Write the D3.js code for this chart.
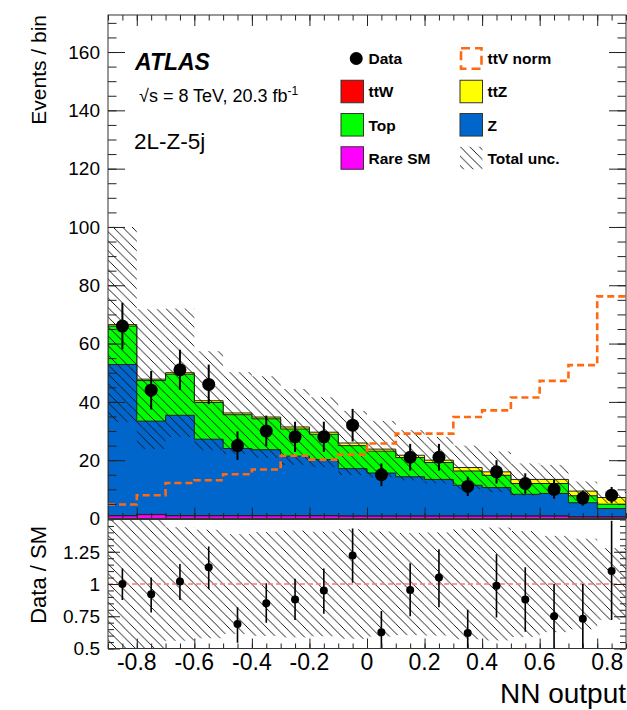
<!DOCTYPE html>
<html>
<head>
<meta charset="utf-8">
<script src="https://cdn.jsdelivr.net/npm/d3@7"></script>
<style>
  body { margin: 0; background: #fff; }
  svg { display: block; font-family: "Liberation Sans", Arial, Helvetica, sans-serif; }
</style>
</head>
<body>
<div id="chart"></div>
<script>
// bin edges of the NN output histogram
const binEdges = [-0.9, -0.8, -0.7, -0.6, -0.5, -0.4, -0.3, -0.2, -0.1, 0, 0.1, 0.2, 0.3, 0.4, 0.5, 0.6, 0.7, 0.8, 0.9];

// stacked backgrounds, bottom to top
const rareSM = [0.9, 1.3, 0.9, 0.9, 0.9, 0.9, 0.9, 0.9, 0.8, 0.8, 0.8, 0.8, 0.8, 0.8, 0.8, 0.8, 0.5, 0.5];
const ttW    = [0.1, 0.1, 0.1, 0.1, 0.1, 0.1, 0.1, 0.1, 0.1, 0.1, 0.1, 0.1, 0.1, 0.1, 0.1, 0.1, 0.1, 0.1];
const zJets  = [51.8, 32.0, 34.4, 26.2, 23.0, 22.6, 20.4, 19.2, 16.2, 14.7, 13.4, 12.5, 10.5, 9.7, 7.4, 7.7, 4.8, 2.8];
const topBkg = [13.2, 13.9, 14.1, 12.6, 11.6, 10.6, 9.3, 8.7, 7.9, 7.5, 6.6, 5.8, 4.9, 4.2, 3.7, 3.4, 2.4, 1.5];
const ttZ    = [0.5, 0.5, 0.5, 0.6, 0.6, 0.6, 0.7, 0.7, 0.9, 0.7, 0.8, 0.8, 1.2, 1.2, 1.4, 1.4, 1.6, 2.3];
const totalUnc = [33.5, 24, 22, 17, 14, 14, 13, 12, 11, 9.7, 8.6, 8, 7.5, 7, 5.5, 5, 3.3, 2.0];

// ttV shape normalised to the total
const ttvNorm = [4.8, 8.0, 12.2, 13.1, 15.2, 16.8, 21.5, 20.2, 21.9, 25.7, 29.1, 29.1, 34.8, 37.1, 41.5, 47.2, 52.6, 76.2];

// data
const dataCounts = [66, 44, 51, 46, 25, 30, 28, 28, 32, 15, 21, 21, 11, 16, 12, 10, 7, 8];
const dataErr    = [8.0, 6.6, 6.9, 6.8, 4.9, 5.3, 5.2, 5.2, 5.6, 3.9, 4.6, 4.6, 3.3, 4.0, 3.5, 3.2, 2.6, 2.8];

// ratio panel
const ratioVals = [1.0, 0.92, 1.02, 1.13, 0.69, 0.85, 0.88, 0.95, 1.22, 0.626, 0.954, 1.05, 0.62, 0.987, 0.88, 0.75, 0.73, 1.10];
const ratioHi   = [1.12, 1.05, 1.155, 1.29, 0.82, 1.005, 1.04, 1.12, 1.43, 0.79, 1.16, 1.27, 0.80, 1.23, 1.13, 1.0, 1.0, 1.49];
const ratioLo   = [0.876, 0.78, 0.876, 0.96, 0.545, 0.70, 0.72, 0.77, 1.01, 0.45, 0.75, 0.82, 0.45, 0.74, 0.63, 0.45, 0.45, 0.72];

const xTicks = [-0.8, -0.6, -0.4, -0.2, 0, 0.2, 0.4, 0.6, 0.8];
const xTickLabels = ["-0.8", "-0.6", "-0.4", "-0.2", "0", "0.2", "0.4", "0.6", "0.8"];
const yTicks = [0, 20, 40, 60, 80, 100, 120, 140, 160];
const ratioTicks = [0.5, 0.75, 1, 1.25];
const ratioTickLabels = ["0.5", "0.75", "1", "1.25"];

const width = 627, height = 710;
const left = 108, right = 626;
const mainTop = 15, mainBottom = 518.5;
const ratioTop = 519.5, ratioBottom = 648.5;

const svg = d3.select("#chart")
  .append("svg")
  .attr("width", width)
  .attr("height", height);

const x = d3.scaleLinear().domain([-0.9, 0.9]).range([left, right]);
const y = d3.scaleLinear().domain([0, 172.7]).range([mainBottom, mainTop]);
const yr = d3.scaleLinear().domain([0.5, 1.5]).range([ratioBottom, ratioTop]);

const defs = svg.append("defs");
const hatch = defs.append("pattern")
  .attr("id", "hatch")
  .attr("patternUnits", "userSpaceOnUse")
  .attr("width", 9.5).attr("height", 9.5);
hatch.append("path")
  .attr("d", "M0,0 L9.5,9.5 M-2,7.5 L2,11.5 M7.5,-2 L11.5,2")
  .attr("stroke", "#111").attr("stroke-width", 1)
  .attr("shape-rendering", "crispEdges");

defs.append("clipPath").attr("id", "clipMain")
  .append("rect").attr("x", left).attr("y", mainTop).attr("width", right - left).attr("height", mainBottom - mainTop);
defs.append("clipPath").attr("id", "clipRatio")
  .append("rect").attr("x", left).attr("y", ratioTop).attr("width", right - left).attr("height", ratioBottom - ratioTop);

const nBins = dataCounts.length;
const bins = d3.range(nBins);
const mid = i => (binEdges[i] + binEdges[i + 1]) / 2;

// cumulative stack
const layers = [rareSM, ttW, zJets, topBkg, ttZ];
const colors = ["#ff00ff", "#ff0000", "#0066cc", "#00ff00", "#ffff00"];
const cum = [];
layers.forEach((l, k) => {
  cum.push(l.map((v, i) => v + (k ? cum[k - 1][i] : 0)));
});
const total = cum[cum.length - 1];

const stepPts = vals => vals.map((v, i) => ({e: binEdges[i], v})).concat([{e: binEdges[nBins], v: vals[nBins - 1]}]);

const area = d3.area().curve(d3.curveStepAfter)
  .x(d => x(d.e)).y0(y(0)).y1(d => y(d.v));

const main = svg.append("g").attr("clip-path", "url(#clipMain)");

for (let k = layers.length - 1; k >= 0; k--) {
  main.append("path")
    .attr("d", area(stepPts(cum[k])))
    .attr("fill", colors[k])
    .attr("stroke", "#222")
    .attr("stroke-width", 1);
}

// total uncertainty band
main.selectAll("rect.unc")
  .data(bins)
  .enter()
  .append("rect")
  .attr("class", "unc")
  .attr("x", i => x(binEdges[i]))
  .attr("width", i => x(binEdges[i + 1]) - x(binEdges[i]))
  .attr("y", i => y(total[i] + totalUnc[i]))
  .attr("height", i => y(total[i] - totalUnc[i]) - y(total[i] + totalUnc[i]))
  .attr("fill", "url(#hatch)");

// ttV norm
const line = d3.line().curve(d3.curveStepAfter).x(d => x(d.e)).y(d => y(d.v));
main.append("path")
  .attr("d", line(stepPts(ttvNorm)))
  .attr("fill", "none")
  .attr("stroke", "#ff6a10")
  .attr("stroke-width", 2.6)
  .attr("stroke-dasharray", "7,4");

// data
main.selectAll("line.err")
  .data(bins)
  .enter()
  .append("line")
  .attr("x1", i => x(mid(i))).attr("x2", i => x(mid(i)))
  .attr("y1", i => y(dataCounts[i] + dataErr[i]))
  .attr("y2", i => y(dataCounts[i] - dataErr[i]))
  .attr("stroke", "#000").attr("stroke-width", 2);
main.selectAll("circle.pt")
  .data(bins)
  .enter()
  .append("circle")
  .attr("cx", i => x(mid(i))).attr("cy", i => y(dataCounts[i]))
  .attr("r", 6.5).attr("fill", "#000");

// ratio panel
const ratio = svg.append("g").attr("clip-path", "url(#clipRatio)");
ratio.selectAll("rect.unc")
  .data(bins)
  .enter()
  .append("rect")
  .attr("x", i => x(binEdges[i]))
  .attr("width", i => x(binEdges[i + 1]) - x(binEdges[i]))
  .attr("y", i => yr(1 + totalUnc[i] / total[i]))
  .attr("height", i => yr(1 - totalUnc[i] / total[i]) - yr(1 + totalUnc[i] / total[i]))
  .attr("fill", "url(#hatch)");

ratio.append("line")
  .attr("x1", left).attr("x2", right)
  .attr("y1", yr(1)).attr("y2", yr(1))
  .attr("stroke", "#f77").attr("stroke-width", 1.3)
  .attr("stroke-dasharray", "5,3");

ratio.selectAll("line.err")
  .data(bins)
  .enter()
  .append("line")
  .attr("x1", i => x(mid(i))).attr("x2", i => x(mid(i)))
  .attr("y1", i => yr(ratioHi[i])).attr("y2", i => yr(ratioLo[i]))
  .attr("stroke", "#000").attr("stroke-width", 1.6);
ratio.selectAll("circle.pt")
  .data(bins)
  .enter()
  .append("circle")
  .attr("cx", i => x(mid(i))).attr("cy", i => yr(ratioVals[i]))
  .attr("r", 4).attr("fill", "#000");

// ticks, drawn inward on every side
const minorX = d3.range(-0.9, 0.9001, 0.05);
function ticks(axisFn, scale, values, size, tr) {
  svg.append("g")
    .attr("transform", tr)
    .call(axisFn(scale).tickValues(values).tickSize(size).tickFormat(""))
    .call(g => g.select(".domain").remove())
    .selectAll("line").attr("stroke", "#222");
}
// main panel
ticks(d3.axisBottom, x, minorX, -5.5, `translate(0,${mainBottom})`);
ticks(d3.axisBottom, x, xTicks, -11, `translate(0,${mainBottom})`);
ticks(d3.axisTop, x, minorX, -5.5, `translate(0,${mainTop})`);
ticks(d3.axisTop, x, xTicks, -11, `translate(0,${mainTop})`);
const minorY = d3.range(0, 172.7, 5);
ticks(d3.axisLeft, y, minorY, -8.5, `translate(${left},0)`);
ticks(d3.axisLeft, y, yTicks, -17, `translate(${left},0)`);
ticks(d3.axisRight, y, minorY, -8.5, `translate(${right},0)`);
ticks(d3.axisRight, y, yTicks, -17, `translate(${right},0)`);
// ratio panel
ticks(d3.axisBottom, x, minorX, -5, `translate(0,${ratioBottom})`);
ticks(d3.axisBottom, x, xTicks, -10, `translate(0,${ratioBottom})`);
const minorR = d3.range(0.5, 1.5001, 0.05);
ticks(d3.axisLeft, yr, minorR, -6, `translate(${left},0)`);
ticks(d3.axisLeft, yr, ratioTicks, -12, `translate(${left},0)`);
ticks(d3.axisRight, yr, minorR, -6, `translate(${right},0)`);
ticks(d3.axisRight, yr, ratioTicks, -12, `translate(${right},0)`);

// frames
svg.append("rect")
  .attr("x", left).attr("y", mainTop).attr("width", right - left).attr("height", mainBottom - mainTop)
  .attr("fill", "none").attr("stroke", "#333").attr("stroke-width", 1);
svg.append("rect")
  .attr("x", left).attr("y", ratioTop).attr("width", right - left).attr("height", ratioBottom - ratioTop)
  .attr("fill", "none").attr("stroke", "#333").attr("stroke-width", 1);

// tick labels
svg.selectAll("text.ylab")
  .data(yTicks)
  .enter()
  .append("text")
  .attr("x", 100).attr("y", d => y(d)).attr("dy", "0.36em")
  .attr("text-anchor", "end").attr("font-size", 19)
  .text(d => d);
svg.selectAll("text.rlab")
  .data(ratioTicks)
  .enter()
  .append("text")
  .attr("x", 100).attr("y", d => yr(d)).attr("dy", "0.36em")
  .attr("text-anchor", "end").attr("font-size", 19)
  .text((d, i) => ratioTickLabels[i]);
svg.selectAll("text.xlab")
  .data(xTicks)
  .enter()
  .append("text")
  // the last label sits a little right of its tick, as in the original
  .attr("x", (d, i) => x(d) + (i === xTicks.length - 1 ? 10 : 0)).attr("y", 670)
  .attr("text-anchor", "middle").attr("font-size", 23)
  .text((d, i) => xTickLabels[i]);

// axis titles
svg.append("text")
  .attr("transform", "translate(46,15) rotate(-90)")
  .attr("text-anchor", "end").attr("font-size", 21)
  .text("Events / bin");
svg.append("text")
  .attr("transform", "translate(46,526) rotate(-90)")
  .attr("text-anchor", "end").attr("font-size", 22)
  .text("Data / SM");
svg.append("text")
  .attr("x", 626).attr("y", 703)
  .attr("text-anchor", "end").attr("font-size", 28)
  .text("NN output");

// labels
svg.append("text")
  .attr("x", 135).attr("y", 70)
  .attr("font-size", 23).attr("font-weight", "bold").attr("font-style", "italic")
  .text("ATLAS");
const lumi = svg.append("text")
  .attr("x", 139).attr("y", 101.5).attr("font-size", 18)
  .text("√s = 8 TeV, 20.3 fb");
lumi.append("tspan").attr("dy", -7).attr("font-size", 12).text("-1");
svg.append("text")
  .attr("x", 134).attr("y", 148.5).attr("font-size", 22.5)
  .text("2L-Z-5j");

// legend
const legendItems = [
  {label: "Data", type: "marker", col: 0, row: 0},
  {label: "ttV norm", type: "dash", col: 1, row: 0},
  {label: "ttW", type: "box", color: "#ff0000", col: 0, row: 1},
  {label: "ttZ", type: "box", color: "#ffff00", col: 1, row: 1},
  {label: "Top", type: "box", color: "#00ff00", col: 0, row: 2},
  {label: "Z", type: "box", color: "#0066cc", col: 1, row: 2},
  {label: "Rare SM", type: "box", color: "#ff00ff", col: 0, row: 3},
  {label: "Total unc.", type: "hatch", col: 1, row: 3}
];
const colX = [341, 460];
const rowY = [58.5, 91.5, 124.8, 158];
const boxS = 22.5;
legendItems.forEach(d => {
  const bx = colX[d.col], cy = rowY[d.row];
  if (d.type === "marker") {
    svg.append("circle").attr("cx", bx + boxS / 2 + 4).attr("cy", cy).attr("r", 6.5).attr("fill", "#000");
  } else if (d.type === "dash") {
    svg.append("rect").attr("x", bx + 1).attr("y", cy - boxS / 2 + 1).attr("width", boxS - 2).attr("height", boxS - 2)
      .attr("fill", "none").attr("stroke", "#ff6a10").attr("stroke-width", 2.6).attr("stroke-dasharray", "9,5");
  } else if (d.type === "hatch") {
    svg.append("rect").attr("x", bx).attr("y", cy - boxS / 2).attr("width", boxS).attr("height", boxS)
      .attr("fill", "url(#hatch)");
  } else {
    svg.append("rect").attr("x", bx).attr("y", cy - boxS / 2).attr("width", boxS).attr("height", boxS)
      .attr("fill", d.color).attr("stroke", "#333").attr("stroke-width", 1);
  }
  svg.append("text")
    .attr("x", bx + 27.5).attr("y", cy + 5.8)
    .attr("font-size", 15.5).attr("font-weight", "bold")
    .text(d.label);
});
</script>
</body>
</html>
